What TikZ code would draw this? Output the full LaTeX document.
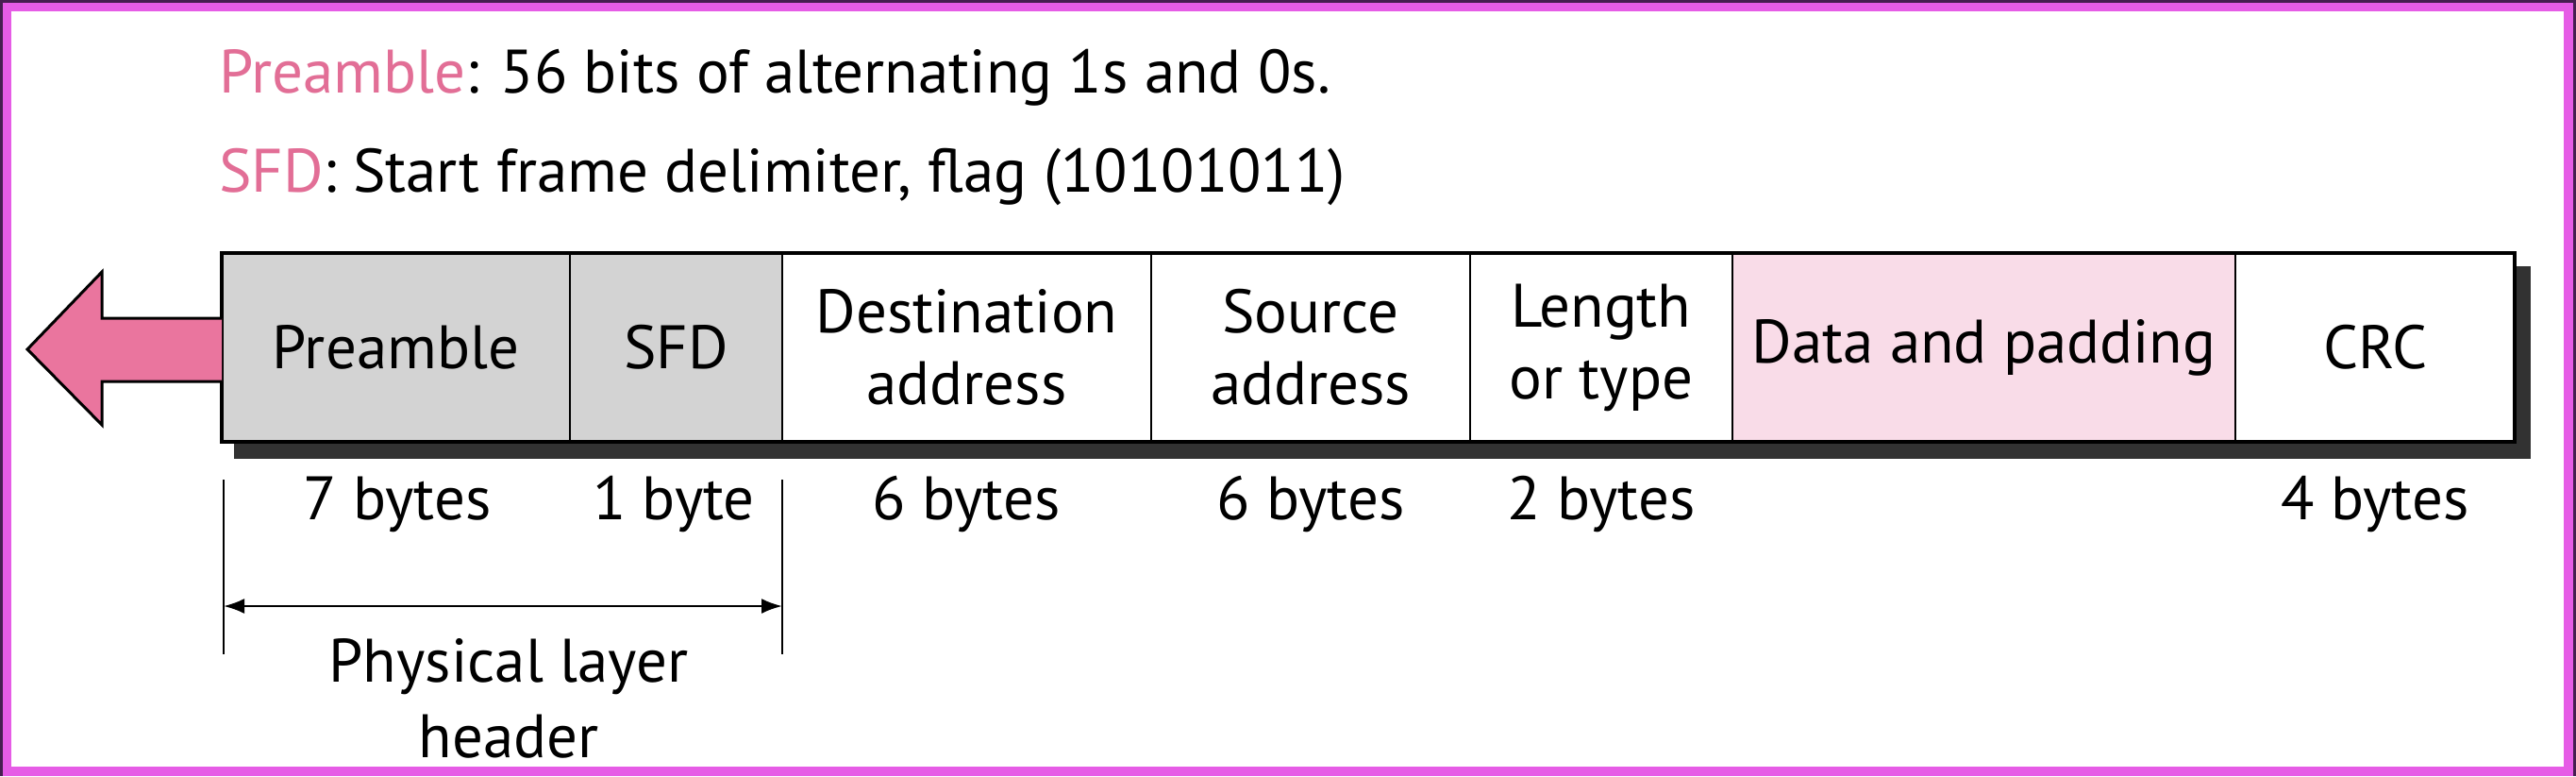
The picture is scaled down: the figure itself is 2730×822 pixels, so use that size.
\documentclass[tikz,border=0pt]{standalone}
\usepackage{fontspec}
\setmainfont{PT Sans}
\usetikzlibrary{arrows.meta}
\definecolor{frameout}{RGB}{70,30,80}
\definecolor{framemag}{RGB}{230,92,230}
\definecolor{pinktxt}{RGB}{226,110,150}
\definecolor{arrowpink}{RGB}{234,117,158}
\definecolor{datapink}{RGB}{249,220,232}
\definecolor{hdrgray}{RGB}{211,211,211}
\definecolor{shadowgray}{RGB}{50,50,50}
\tikzset{
  lbl/.style={font=\fontsize{65}{76}\selectfont, inner sep=0pt, outer sep=0pt, align=center},
  field/.style={lbl, draw=black, line width=2.5pt, minimum height=200pt},
  bytes/.style={lbl, anchor=base},
  dimline/.style={line width=2pt, black},
}
\begin{document}
\begin{tikzpicture}[x=1pt,y=-1pt]
\useasboundingbox (0,0) rectangle (2730,822);
% frame
\fill[frameout] (0,0) rectangle (2730,822);
\fill[framemag] (3,3) rectangle (2727,822);
\fill[white] (12,12) rectangle (2717,812);
% top text
\node[bytes, anchor=base west] (t1) at (232,98) {\textcolor{pinktxt}{Preamble}: 56 bits of alternating 1s and 0s.};
\node[bytes, anchor=base west] (t2) at (232,203) {\textcolor{pinktxt}{SFD}: Start frame delimiter, flag (10101011)};
% shadow
\fill[shadowgray] (248,282) rectangle (2682,486);
% fields
\node[field, fill=hdrgray, minimum width=369pt] (pre) at (419.5,368) {Preamble};
\node[field, fill=hdrgray, minimum width=225pt] (sfd) at (716.5,368) {SFD};
\node[field, fill=white, minimum width=391pt] (dst) at (1024.5,368) {Destination\\address};
\node[field, fill=white, minimum width=338pt] (src) at (1389,368) {Source\\address};
\node[field, fill=white, minimum width=278pt] (len) at (1697,368) {Length\\or type};
\node[field, fill=datapink, minimum width=533pt] (dat) at (2102.5,368) {Data and padding};
\node[field, fill=white, minimum width=296pt] (crc) at (2517,368) {CRC};
\draw[line width=4pt] (pre.north west) rectangle (crc.south east);
% direction arrow
\draw[fill=arrowpink, line width=3pt, line join=miter] (pre.west |- 0,337) -- (108,337) -- (108,288) -- (29,370) -- (108,450) -- (108,404) -- (pre.west |- 0,404);
% byte labels
\node[bytes] (b1) at (421,550) {7 bytes};
\node[bytes] (b2) at (714,550) {1 byte};
\node[bytes] (b3) at (1024,550) {6 bytes};
\node[bytes] (b4) at (1389,550) {6 bytes};
\node[bytes] (b5) at (1697,550) {2 bytes};
\node[bytes] (b6) at (2517,550) {4 bytes};
% physical layer header dimension
\coordinate (l1) at (237,508);
\coordinate (l2) at (237,693);
\coordinate (r1) at (829,508);
\coordinate (r2) at (829,693);
\draw[dimline] (l1) -- (l2);
\draw[dimline] (r1) -- (r2);
\coordinate (a1) at (237,642);
\coordinate (a2) at (829,642);
\draw[dimline, line width=2.5pt, {Latex[length=22pt,width=16pt]}-{Latex[length=22pt,width=16pt]}] (a1) -- (a2);
\node[lbl, font=\fontsize{65}{80}\selectfont, anchor=base] (phy) at (539,802) {Physical layer\\header};
\end{tikzpicture}
\end{document}
